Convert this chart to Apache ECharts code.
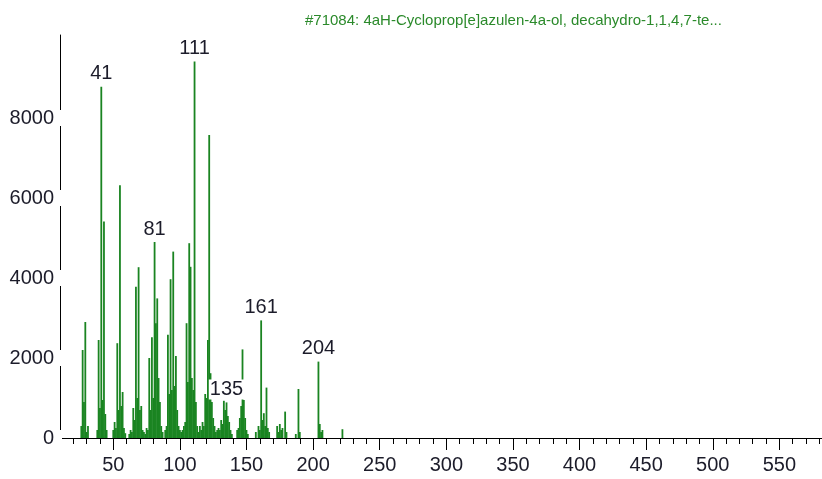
<!DOCTYPE html>
<html>
<head>
<meta charset="utf-8">
<script src="https://cdn.jsdelivr.net/npm/echarts@6/dist/echarts.min.js"></script>
<style>
  html, body { margin: 0; padding: 0; background: #fff; }
  #chart { width: 822px; height: 479px; }
</style>
</head>
<body>
<div id="chart"></div>
<script>
  // m/z and abundance
  const mzValues = [
    26, 27, 28, 29, 30, 31, 38, 39, 40, 41, 42, 43, 44, 45,
    50, 51, 52, 53, 54, 55, 56, 57, 58, 59, 62, 63, 64,
    65, 66, 67, 68, 69, 70, 71, 72, 73, 74, 75, 76,
    77, 78, 79, 80, 81, 82, 83, 84, 85, 86, 87, 89, 90,
    91, 92, 93, 94, 95, 96, 97, 98, 99, 100, 101, 102, 103, 104,
    105, 106, 107, 108, 109, 110, 111, 112, 113, 114, 115, 116, 117, 118,
    119, 120, 121, 122, 123, 124, 125, 126, 127, 128, 129, 130,
    131, 132, 133, 134, 135, 136, 137, 138, 139, 143, 144,
    145, 146, 147, 148, 149, 150, 151, 157, 159, 160,
    161, 162, 163, 164, 165, 166, 167, 173, 174, 175, 176, 177, 179, 180,
    187, 189, 190, 204, 205, 206, 207, 222
  ]
  const intensities = [
    300, 2200, 900, 2900, 150, 300, 200, 2450, 750, 8780, 950, 5410, 600, 200,
    200, 400, 250, 2370, 700, 6320, 800, 1150, 250, 120, 100, 200, 150,
    750, 450, 3780, 1000, 4270, 700, 800, 200, 150, 100, 250, 200,
    2000, 700, 2520, 1000, 4900, 2870, 3490, 1500, 900, 300, 150, 200, 300,
    2580, 1100, 3970, 1200, 4660, 1300, 2050, 700, 300, 200, 150, 200, 300, 400,
    2870, 1400, 4870, 4280, 1500, 1200, 9410, 900, 300, 150, 300, 200, 400, 300,
    1100, 1000, 2450, 7575, 1620, 900, 500, 300, 150, 200, 250, 200,
    450, 350, 930, 700, 890, 550, 400, 200, 100, 200, 250,
    500, 800, 2215, 950, 500, 200, 100, 150, 300, 200,
    2940, 450, 620, 300, 1260, 250, 150, 300, 150, 350, 200, 250, 660, 150,
    100, 1225, 150, 1910, 350, 150, 200, 220
  ]
  const peakLabels = [41, 81, 111, 135, 161, 204]
  const xMinorTicks = []
  for (let v = 10; v <= 580; v += 10) xMinorTicks.push(v)
  const xMajorTicks = [50, 100, 150, 200, 250, 300, 350, 400, 450, 500, 550]
  const yTicks = [0, 2000, 4000, 6000, 8000]

  const barColor = '#1a8421'
  const textColor = '#1c1c2a'
  const fontFamily = '"Liberation Sans", Arial, sans-serif'

  const chart = echarts.init(document.getElementById('chart'))

  const barData = mzValues.map((m, i) => {
    const item = { value: [m, intensities[i]] }
    if (peakLabels.indexOf(m) >= 0) {
      item.label = { show: true }
    }
    return item
  })

  chart.setOption({
    animation: false,
    title: {
      text: '#71084: 4aH-Cycloprop[e]azulen-4a-ol, decahydro-1,1,4,7-te...',
      left: 300,
      top: 8,
      textStyle: {
        color: '#2b8a2b',
        fontFamily: fontFamily,
        fontSize: 15,
        fontWeight: 'normal'
      }
    },
    grid: {
      left: 60,
      right: 0,
      top: 35,
      bottom: 41
    },
    xAxis: [{
      type: 'value',
      min: 10,
      max: 582,
      interval: 10,
      axisLine: { show: true, lineStyle: { color: '#000', width: 1 } },
      axisTick: { show: true, length: 6, lineStyle: { color: '#000' }, customValues: xMinorTicks },
      axisLabel: { show: false },
      splitLine: { show: false }
    }, {
      type: 'value',
      position: 'bottom',
      min: 10,
      max: 582,
      axisLine: { show: false },
      axisTick: { show: true, length: 12, lineStyle: { color: '#000' }, customValues: xMajorTicks },
      axisLabel: {
        show: true,
        customValues: xMajorTicks,
        margin: 17,
        color: textColor,
        fontFamily: fontFamily,
        fontSize: 20
      },
      splitLine: { show: false }
    }],
    yAxis: {
      type: 'value',
      min: 0,
      max: 10075,
      interval: 2000,
      axisLine: { show: true, lineStyle: { color: '#000', width: 1 } },
      axisTick: { show: false },
      axisLabel: {
        customValues: yTicks,
        formatter: (v) => String(v),
        margin: -2,
        color: textColor,
        fontFamily: fontFamily,
        fontSize: 20,
        backgroundColor: '#fff',
        padding: [-2, 8, -2, 0]
      },
      splitLine: { show: false }
    },
    series: [{
      type: 'bar',
      xAxisIndex: 0,
      barWidth: 1.8,
      itemStyle: { color: barColor },
      label: {
        show: false,
        position: 'top',
        distance: 3,
        formatter: (p) => p.value[0],
        color: textColor,
        fontFamily: fontFamily,
        fontSize: 20,
        backgroundColor: '#fff',
        padding: [0, 1]
      },
      data: barData
    }]
  })
</script>
</body>
</html>
